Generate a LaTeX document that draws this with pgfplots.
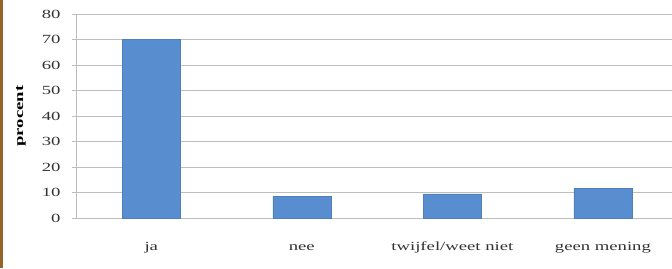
\documentclass[border=0pt]{standalone}
\usepackage{pgfplots}
\pgfplotsset{compat=1.18}
\usepackage{fontspec}
\setmainfont[FakeStretch=1.5]{Liberation Serif}
\definecolor{barblue}{RGB}{88,141,207}
\definecolor{gridgray}{RGB}{190,190,190}
\definecolor{framebrown}{RGB}{150,100,40}
\begin{document}
\begin{tikzpicture}[x=1bp,y=1bp]
\useasboundingbox (0,0) rectangle (672,268);
\fill[framebrown] (0,0) rectangle (2.5,268);
\begin{axis}[
  at={(76bp,50bp)}, anchor=south west,
  scale only axis,
  width=596bp, height=204bp,
  xmin=-0.5, xmax=3.459,
  ymin=0, ymax=80,
  ytick={0,10,...,80},
  xtick={0,1,2,3},
  xticklabels={ja,nee,twijfel/weet niet,geen mening},
  /pgf/number format/assume math mode=true,
  axis x line*=bottom,
  axis y line*=left,
  axis line style={gridgray, line width=1bp, -},
  ymajorgrids,
  major grid style={gridgray, line width=1bp},
  tick align=outside,
  major tick length=4bp,
  ytick style={gridgray, line width=1bp},
  xtick style={draw=none},
  ticklabel style={font=\fontsize{12.5}{14}\selectfont, text=black!80},
  yticklabel style={xshift=-8bp},
  xticklabel style={anchor=base, yshift=-28bp},
  ylabel={\textbf{procent}},
  every axis y label/.style={at={(axis description cs:-0.0923,0.5)}, rotate=90, anchor=center, font=\fontsize{12.5}{14}\selectfont},
  clip=false,
]
\addplot[ybar, bar width=58bp, fill=barblue, draw=barblue!90!black, line width=0.4bp] coordinates {(0,70) (1,8.6) (2,9.5) (3,11.6)};
\end{axis}
\end{tikzpicture}
\end{document}
